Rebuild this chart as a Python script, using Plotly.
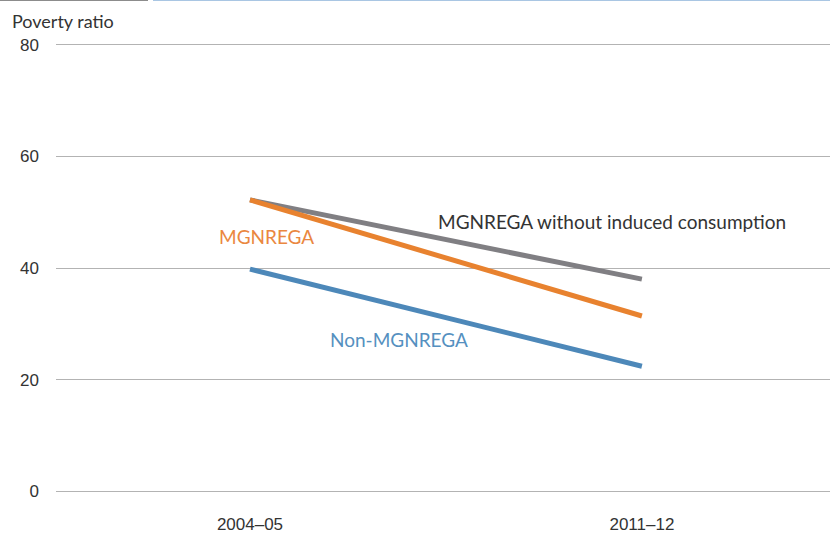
import plotly.graph_objects as go

categories = ["2004–05", "2011–12"]
mgnrega_wo = [52.2, 38.0]
mgnrega = [52.2, 31.4]
non_mgnrega = [39.8, 22.4]
y_ticks = [0, 20, 40, 60, 80]

GRAY = "#807f83"
ORANGE = "#e8822f"
BLUE = "#4d88b9"

PL, PT, PW, PH = 56, 42, 774, 452

fig = go.Figure()
for vals, col in [(mgnrega_wo, GRAY), (mgnrega, ORANGE), (non_mgnrega, BLUE)]:
    fig.add_trace(go.Scatter(x=categories, y=vals, mode="lines",
                             line=dict(color=col, width=5), showlegend=False,
                             hoverinfo="skip"))

fig.add_annotation(x=0.043, y=45.6, xref="x", yref="y", text="MGNREGA",
                   showarrow=False, font=dict(color="#ea8740", size=19))
fig.add_annotation(x=0.923, y=48.3, xref="x", yref="y",
                   text="MGNREGA without induced consumption",
                   showarrow=False, font=dict(color="#333333", size=19))
fig.add_annotation(x=0.38, y=27.1, xref="x", yref="y", text="Non-MGNREGA",
                   showarrow=False, font=dict(color="#5590c0", size=19))
fig.add_annotation(x=(10 - PL) / PW, y=1 + (PT - 21) / PH, xref="paper", yref="paper",
                   text="Poverty ratio", showarrow=False, xanchor="left", yanchor="middle",
                   font=dict(color="#333333", size=18))

tickfont = dict(size=17, family="Liberation Sans, Arial, sans-serif", color="#333333")
fig.update_layout(
    width=830, height=533,
    margin=dict(l=PL, r=0, t=PT, b=533 - PT - PH, autoexpand=False),
    paper_bgcolor="white", plot_bgcolor="white",
    font=dict(family="Lato, Open Sans, sans-serif", color="#333333"),
    xaxis=dict(type="category", range=[-0.495, 1.48], showgrid=False,
               zeroline=False, showline=False, ticks="",
               ticklabelstandoff=18, tickfont=tickfont),
    yaxis=dict(range=[-0.5, 80.5], tickvals=y_ticks, showgrid=True,
               gridcolor="#b3b3b3", gridwidth=1, zeroline=False,
               showline=False, ticks="", ticklabelstandoff=16, tickfont=tickfont),
)

ytop = 1 + PT / PH
fig.add_shape(type="line", xref="paper", yref="paper",
              x0=-PL / PW, x1=(148 - PL) / PW, y0=ytop, y1=ytop,
              line=dict(color="#8c8c8c", width=2))
fig.add_shape(type="line", xref="paper", yref="paper",
              x0=(153 - PL) / PW, x1=1, y0=ytop, y1=ytop,
              line=dict(color="#a9c6e3", width=2))

fig.write_html("out.html", config={"displayModeBar": False},
               post_script="document.body.style.margin='0';document.body.style.overflow='hidden';")
